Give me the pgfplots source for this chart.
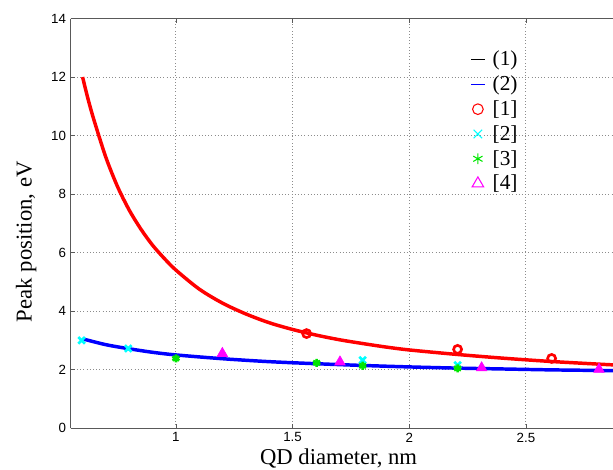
\documentclass[border=0pt]{standalone}
\usepackage{pgfplots}
\pgfplotsset{compat=1.18}
\usepackage{fontspec}
\setmainfont{Liberation Serif}
\newfontfamily\sansf{Liberation Sans}
\definecolor{mred}{RGB}{255,0,0}
\definecolor{mblue}{RGB}{0,0,255}
\definecolor{mcyan}{RGB}{0,255,255}
\definecolor{mgreen}{RGB}{0,230,0}
\definecolor{mmag}{RGB}{255,0,255}
\pgfplotsset{
  shortline/.style={legend image code/.code={\path[draw=none] (0cm,0cm) -- (0.62cm,0cm); \draw[##1] (0.12cm,0cm) -- (0.48cm,0cm);}},
  legmark/.style={legend image code/.code={\path[draw=none] (0cm,0cm) -- (0.62cm,0cm); \draw[##1] plot coordinates {(0.3cm,0cm)};}},
}
\begin{document}
\begin{tikzpicture}
\useasboundingbox (-53pt,-30.75pt) rectangle (406.7pt,321pt);
\begin{axis}[
  at={(0pt,0pt)}, anchor=south west,
  scale only axis, width=406.7pt, height=307.1pt,
  xmin=0.549, xmax=2.873, ymin=0, ymax=14,
  axis x line=box, axis y line=left,
  axis line style={-, draw=black!65, line width=0.7pt},
  xtick={1,1.5,2,2.5}, ytick={0,2,...,14},
  tick align=inside, major tick length=3pt,
  tick style={black!65, line width=0.6pt},
  grid=major, major grid style={dotted, black!45, line width=0.7pt},
  /pgf/number format/assume math mode=true,
  tick label style={font=\sansf\fontsize{10}{12}\selectfont},
  xlabel={QD diameter, nm},
  ylabel={Peak position, eV},
  xlabel style={at={(axis description cs:0.494,0)}, anchor=base, yshift=-27.5pt, inner sep=0pt, font=\fontsize{17}{20}\selectfont},
  ylabel style={at={(axis description cs:0,0.455)}, anchor=base, yshift=29.2pt, inner sep=0pt, font=\fontsize{17}{20}\selectfont},
  legend style={draw=none, fill=none, at={(0.722,0.934)}, anchor=north west,
    font=\fontsize{16}{18}\selectfont, row sep=2pt},
  legend cell align=left,
]
% legend entries
\addlegendimage{shortline, black, line width=0.7pt}
\addlegendentry{(1)}
\addlegendimage{shortline, mblue, line width=0.7pt}
\addlegendentry{(2)}
\addlegendimage{legmark, only marks, mark=o, mred, mark size=4pt, line width=0.8pt}
\addlegendentry{[1]}
\addlegendimage{legmark, only marks, mark=x, mcyan, mark size=4.5pt, line width=0.8pt}
\addlegendentry{[2]}
\addlegendimage{legmark, only marks, mark=asterisk, mgreen, mark size=4pt, line width=0.8pt}
\addlegendentry{[3]}
\addlegendimage{legmark, only marks, mark=triangle, mmag, mark size=5pt, line width=0.8pt}
\addlegendentry{[4]}
% curve (1)
\addplot[forget plot, mred, line width=2.6pt, smooth] coordinates {
(0.6,12.0) (0.625,11.2) (0.65,10.5) (0.7,9.25) (0.75,8.25) (0.8,7.45) (0.85,6.8)
(0.9,6.25) (0.95,5.8) (1.0,5.4) (1.1,4.75) (1.2,4.27) (1.3,3.9) (1.4,3.6)
(1.5,3.37) (1.6,3.18) (1.7,3.02) (1.8,2.89) (1.9,2.77) (2.0,2.67) (2.2,2.52)
(2.4,2.39) (2.6,2.28) (2.8,2.19) (2.873,2.16)};
% curve (2)
\addplot[forget plot, mblue, line width=2.6pt, smooth] coordinates {
(0.6,3.05) (0.7,2.85) (0.8,2.71) (0.9,2.59) (1.0,2.50) (1.2,2.37) (1.4,2.27)
(1.6,2.20) (1.8,2.14) (2.0,2.09) (2.2,2.05) (2.4,2.02) (2.6,1.99) (2.8,1.97) (2.873,1.96)};
% [1]
\addplot[forget plot, only marks, mark=o, mred, mark size=3pt, line width=2pt] coordinates {
(1.56,3.23) (2.207,2.69) (2.61,2.38)};
% [2]
\addplot[forget plot, only marks, mark=x, mcyan, mark size=3.5pt, line width=2pt] coordinates {
(0.596,3.0) (0.796,2.72) (1.80,2.32) (2.207,2.15)};
% [3]
\addplot[forget plot, only marks, mark=asterisk, mgreen, mark size=3pt, line width=2pt] coordinates {
(1.0,2.38) (1.603,2.23) (1.80,2.13) (2.207,2.04)};
% [4]
\addplot[forget plot, only marks, mark=triangle*, mmag, mark size=4.5pt, line width=0.5pt] coordinates {
(1.199,2.55) (1.703,2.26) (2.31,2.06) (2.813,2.01)};
\end{axis}
\end{tikzpicture}
\end{document}
